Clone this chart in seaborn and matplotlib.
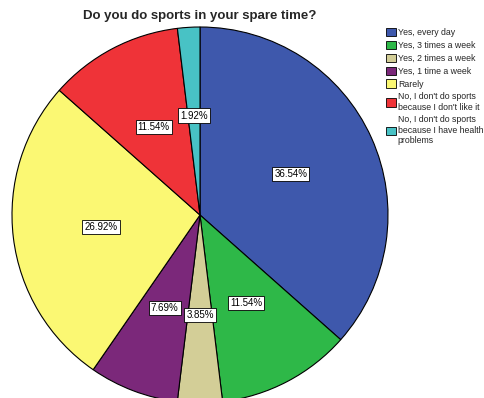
import matplotlib
matplotlib.use("Agg")
import matplotlib.pyplot as plt
import seaborn as sns

# answers and their share (%)
answers = ["Yes, every day", "Yes, 3 times a week", "Yes, 2 times a week",
           "Yes, 1 time a week", "Rarely",
           "No, I don't do sports\nbecause I don't like it",
           "No, I don't do sports\nbecause I have health\nproblems"]
shares = [36.54, 11.54, 3.85, 7.69, 26.92, 11.54, 1.92]
colors = ["#3E58AC", "#2EB848", "#D3CE97", "#7B287A", "#FBF873", "#EF3338", "#48C2C5"]

sns.set_theme(style="white")
plt.rcParams["font.family"] = ["Liberation Sans", "DejaVu Sans"]

W, H = 485, 398
fig = plt.figure(figsize=(W / 100, H / 100), dpi=100)
ax = fig.add_axes([0, 0, 1, 1])
ax.axis("off")

wedges, texts, autotexts = ax.pie(
    shares, colors=colors, startangle=90, counterclock=False,
    center=(200, H - 215), radius=188, autopct="%.2f%%", pctdistance=0.53,
    wedgeprops=dict(edgecolor="black", linewidth=0.8),
    textprops=dict(fontsize=7, color="black"))
for t in autotexts:
    t.set_bbox(dict(facecolor="white", edgecolor="black", linewidth=0.6, pad=1.5))

ax.set_aspect("equal")
ax.set_xlim(0, W)
ax.set_ylim(0, H)

fig.text(200 / W, 1 - 16 / H, "Do you do sports in your spare time?",
         ha="center", va="center", fontsize=9.5, fontweight="bold")

leg = fig.legend(wedges, answers, loc="upper left", bbox_to_anchor=(386 / W, 1 - 28 / H),
                 frameon=False, fontsize=6.3, handlelength=1.1, handleheight=1.1,
                 handletextpad=0.25, labelspacing=0.42, borderaxespad=0, borderpad=0)
for h in leg.legend_handles:
    h.set_linewidth(0.6)

fig.savefig("out.png", dpi=100)
